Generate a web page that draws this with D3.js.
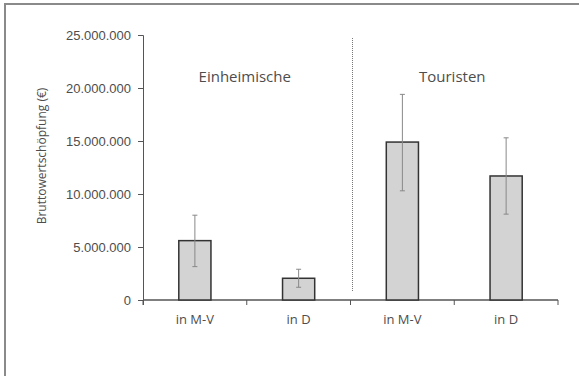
<!DOCTYPE html>
<html>
<head>
<meta charset="utf-8">
<script src="https://cdn.jsdelivr.net/npm/d3@7"></script>
<style>
  body { margin: 0; background: #fff; overflow: hidden; }
  svg { display: block; font-family: 'Open Sans', sans-serif; }
</style>
</head>
<body>
<div id="chart"></div>
<script>
const categories = ['in M-V', 'in D', 'in M-V', 'in D']
const values = [5600000, 2050000, 14900000, 11700000]
const errLow = [3150000, 1200000, 10300000, 8100000]
const errHigh = [8000000, 2900000, 19400000, 15300000]
const groups = ['Einheimische', 'Touristen']
const yTicks = [0, 5000000, 10000000, 15000000, 20000000, 25000000]

const W = 579
const H = 376
const margin = { top: 35, left: 143, right: 21, bottom: 76 }
const width = W - margin.left - margin.right
const height = H - margin.top - margin.bottom
const textColor = '#4d4d4d'

const svg = d3
  .select('#chart')
  .append('svg')
  .attr('width', W)
  .attr('height', H)

// frame, only top and left edges are visible in the figure
svg
  .append('path')
  .attr('d', 'M5,' + H + 'V4H' + W)
  .attr('fill', 'none')
  .attr('stroke', '#8a8a8a')
  .attr('stroke-width', 2)

const g = svg
  .append('g')
  .attr('transform', 'translate(' + margin.left + ',' + margin.top + ')')

const x = d3
  .scaleBand()
  .domain(d3.range(categories.length))
  .range([0, width])

const y = d3.scaleLinear().domain([0, 25000000]).range([height, 0])

const fmt = d3.formatLocale({ decimal: ',', thousands: '.', grouping: [3], currency: ['', '€'] }).format(',')

// y axis
const yAxis = d3.axisLeft(y).tickValues(yTicks).tickSize(5).tickPadding(7).tickFormat(fmt)
g.append('g')
  .attr('class', 'y axis')
  .call(yAxis)
  .call(a => a.select('.domain').attr('stroke', '#555').attr('d', 'M-5,0.5H0.5V' + (height + 5)))
  .call(a => a.selectAll('.tick line').attr('stroke', '#555'))
  .call(a => a.selectAll('.tick text').attr('fill', textColor).style('font-size', '13px'))

// x axis with ticks on band boundaries
g.append('line')
  .attr('x1', 0)
  .attr('x2', width)
  .attr('y1', height)
  .attr('y2', height)
  .attr('stroke', '#555')
  .attr('stroke-width', 1.5)

g.selectAll('.xtick')
  .data(d3.range(categories.length + 1))
  .join('line')
  .attr('class', 'xtick')
  .attr('x1', i => i * x.step())
  .attr('x2', i => i * x.step())
  .attr('y1', height)
  .attr('y2', height + 5)
  .attr('stroke', '#555')

g.selectAll('.xlabel')
  .data(categories)
  .join('text')
  .attr('class', 'xlabel')
  .attr('x', (d, i) => x(i) + x.bandwidth() / 2)
  .attr('y', height + 24)
  .attr('text-anchor', 'middle')
  .attr('fill', textColor)
  .style('font-size', '13px')
  .text(d => d)

// bars
const barW = x.bandwidth() * 0.31
g.selectAll('.bar')
  .data(values)
  .join('rect')
  .attr('class', 'bar')
  .attr('x', (d, i) => x(i) + (x.bandwidth() - barW) / 2)
  .attr('y', d => y(d))
  .attr('width', barW)
  .attr('height', d => height - y(d))
  .attr('fill', '#d3d3d3')
  .attr('stroke', '#333')
  .attr('stroke-width', 1.5)

// error bars
const cx = i => x(i) + x.bandwidth() / 2
const err = g.selectAll('.err').data(values).join('g').attr('class', 'err').attr('stroke', '#888').attr('stroke-width', 1)
err.append('line')
  .attr('x1', (d, i) => cx(i)).attr('x2', (d, i) => cx(i))
  .attr('y1', (d, i) => y(errLow[i])).attr('y2', (d, i) => y(errHigh[i]))
err.append('line')
  .attr('x1', (d, i) => cx(i) - 2.5).attr('x2', (d, i) => cx(i) + 2.5)
  .attr('y1', (d, i) => y(errLow[i])).attr('y2', (d, i) => y(errLow[i]))
err.append('line')
  .attr('x1', (d, i) => cx(i) - 2.5).attr('x2', (d, i) => cx(i) + 2.5)
  .attr('y1', (d, i) => y(errHigh[i])).attr('y2', (d, i) => y(errHigh[i]))

// dotted separator between groups
g.append('line')
  .attr('x1', x(2) + 2)
  .attr('x2', x(2) + 2)
  .attr('y1', y(25000000) + 3)
  .attr('y2', height - 8)
  .attr('stroke', '#777')
  .attr('stroke-width', 1)
  .attr('stroke-dasharray', '1,1')

// group labels
g.selectAll('.group')
  .data(groups)
  .join('text')
  .attr('class', 'group')
  .attr('x', (d, i) => x(i * 2) + x.step() - 2)
  .attr('y', 47)
  .attr('text-anchor', 'middle')
  .attr('fill', textColor)
  .style('font-size', '15px')
  .text(d => d)

// y axis title
svg
  .append('text')
  .attr('transform', 'translate(46,156) rotate(-90)')
  .attr('text-anchor', 'middle')
  .attr('fill', textColor)
  .style('font-size', '12px')
  .text('Bruttowertschöpfung (€)')
</script>
</body>
</html>
